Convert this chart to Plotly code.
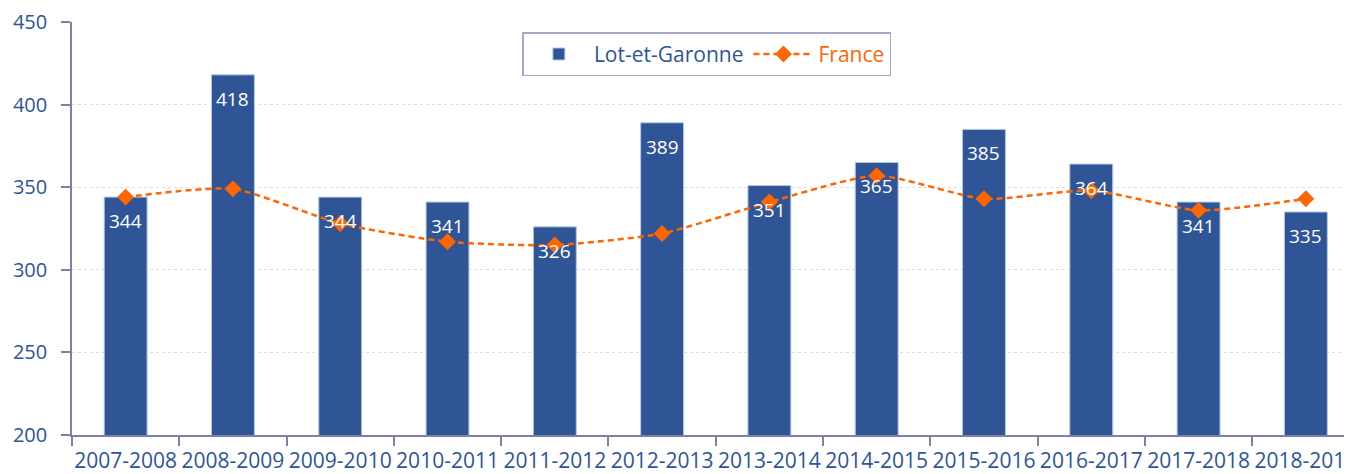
import plotly.graph_objects as go

categories = ["2007-2008", "2008-2009", "2009-2010", "2010-2011", "2011-2012", "2012-2013",
              "2013-2014", "2014-2015", "2015-2016", "2016-2017", "2017-2018", "2018-2019"]
lot_et_garonne = [344, 418, 344, 341, 326, 389, 351, 365, 385, 364, 341, 335]
france = [344, 349, 328, 317, 315, 322, 341, 357, 343, 348, 336, 343]

BLUE = "#2F5597"
ORANGE = "#FF6600"
FONT = "Open Sans"

fig = go.Figure()
fig.add_trace(go.Bar(
    x=categories, y=lot_et_garonne, name="Lot-et-Garonne",
    marker=dict(color=BLUE, line=dict(color="#B4C7E7", width=1)),
    width=0.4,
))
fig.add_trace(go.Scatter(
    x=categories, y=france, name="<span style='color:#FF6600'>France</span>",
    mode="lines+markers",
    line=dict(color=ORANGE, width=2.5, dash="6px,4px", shape="spline", smoothing=0.6),
    marker=dict(symbol="diamond", size=13, color=ORANGE),
))

# value labels inside the bars, near the top
for c, v in zip(categories, lot_et_garonne):
    fig.add_annotation(x=c, y=v, text=str(v), showarrow=False,
                       yanchor="top", yshift=-9,
                       font=dict(color="white", size=19, family=FONT))

fig.update_layout(
    width=1352, height=474,
    margin=dict(l=64, r=8, t=14, b=47),
    plot_bgcolor="white", paper_bgcolor="white",
    font=dict(family=FONT, size=20, color=BLUE),
    bargap=0.6,
    showlegend=True,
    legend=dict(
        orientation="h", x=0.496, xanchor="center", y=0.975, yanchor="top",
        bordercolor="#A6A6C8", borderwidth=1.5, bgcolor="white",
        font=dict(size=21, color=BLUE, family=FONT),
        itemwidth=60,
    ),
)
fig.update_xaxes(
    range=[-0.5, 11.43], automargin=False, tickangle=0,
    showline=True, linecolor="#7F7FAA", linewidth=1.5,
    ticks="outside", tickson="boundaries", ticklen=9, tickcolor="#7F7FAA", tickwidth=1.5,
    tickfont=dict(size=21, color=BLUE, family=FONT),
    ticklabelstandoff=6,
    showgrid=False,
)
fig.update_yaxes(
    range=[200, 450], dtick=50, automargin=False,
    showline=True, linecolor="#7F7FAA", linewidth=1.5,
    ticks="outside", ticklen=9, tickcolor="#7F7FAA", tickwidth=1.5,
    tickfont=dict(size=20, color=BLUE, family=FONT),
    ticklabelstandoff=10,
    showgrid=True, gridcolor="#DCDCEA", griddash="dot", gridwidth=1,
    zeroline=False,
)

fig.write_html("out.html")
